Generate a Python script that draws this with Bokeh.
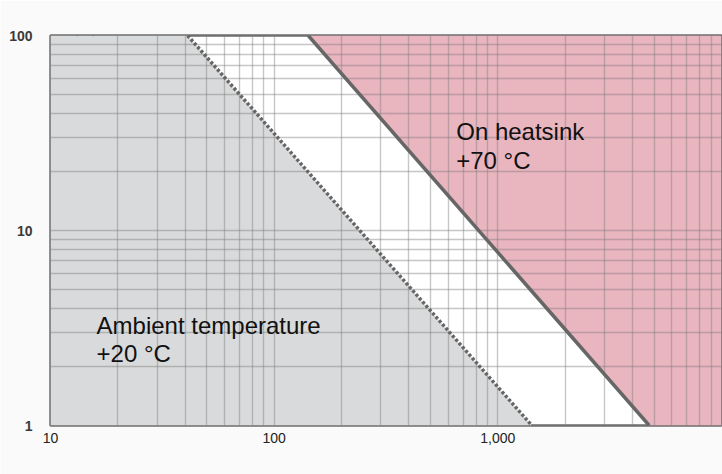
from bokeh.plotting import figure
from bokeh.models import Range1d, FixedTicker, Label
from bokeh.embed import file_html
from bokeh.resources import INLINE

# ---- data ----
x_ticks = [10, 100, 1000]
x_tick_labels = ["10", "100", "1,000"]
y_ticks = [1, 10, 100]
y_tick_labels = ["1", "10", "100"]

# boundary of the "ambient temperature +20 °C" region (dotted line)
ambient_P = [41, 1420]
ambient_ED = [100, 1]
# boundary of the "on heatsink +70 °C" region (solid line)
heatsink_P = [142, 4750]
heatsink_ED = [100, 1]

x_min, x_max = 10, 10000
y_min, y_max = 1, 100

FONT = "Liberation Sans"

p = figure(width=722, height=474, x_axis_type="log", y_axis_type="log",
           x_range=Range1d(x_min, x_max), y_range=Range1d(y_min, y_max),
           output_backend="svg", toolbar_location=None,
           min_border_left=50, min_border_right=1, min_border_top=35,
           min_border_bottom=49)
p.background_fill_color = "#ffffff"
p.border_fill_color = "#fafafa"
p.outline_line_color = "#6e6e6e"
p.outline_line_width = 2.5

# filled regions (under the grid)
p.patch([x_min, x_min, ambient_P[0], ambient_P[1]],
        [y_min, y_max, ambient_ED[0], ambient_ED[1]],
        fill_color="#d9dadb", line_color=None, level="image")
p.patch([heatsink_P[0], x_max, x_max, heatsink_P[1]],
        [heatsink_ED[0], y_max, y_min, heatsink_ED[1]],
        fill_color="#e9b5bf", line_color=None, level="image")

# boundary lines
p.line(ambient_P, ambient_ED, line_color="#666666", line_width=3.5,
       line_dash="3 2", line_cap="butt")
p.line(heatsink_P, heatsink_ED, line_color="#666666", line_width=3.5)

# grid at 1..9 x each decade
xg = [m * 10 ** k for k in range(1, 4) for m in range(1, 10)] + [x_max]
yg = [m * 10 ** k for k in range(0, 2) for m in range(1, 10)] + [y_max]
p.xgrid.ticker = FixedTicker(ticks=xg)
p.ygrid.ticker = FixedTicker(ticks=yg)
for g in (p.xgrid, p.ygrid):
    g.grid_line_color = "#7a7a7a"
    g.grid_line_alpha = 0.42
    g.grid_line_width = 1.4

# axes
p.xaxis.ticker = FixedTicker(ticks=x_ticks)
p.xaxis.major_label_overrides = {t: s for t, s in zip(x_ticks, x_tick_labels)}
p.yaxis.ticker = FixedTicker(ticks=y_ticks)
p.yaxis.major_label_overrides = {t: s for t, s in zip(y_ticks, y_tick_labels)}
for ax in (p.xaxis, p.yaxis):
    ax.axis_line_color = None
    ax.major_tick_line_color = None
    ax.minor_tick_line_color = None
    ax.major_tick_out = 0
    ax.major_label_text_font = FONT
    ax.major_label_text_font_size = "14px"
p.xaxis.major_label_text_color = "#222222"
p.xaxis.major_label_text_align = "left"
p.xaxis.major_label_standoff = 7
p.yaxis.major_label_text_color = "#3a3a3a"
p.yaxis.major_label_text_font_style = "bold"
p.yaxis.major_label_standoff = 18

# axis titles and extra label
p.add_layout(Label(x=x_min, y=y_max, y_offset=8, text="ED(%)",
                   text_font=FONT, text_font_size="16px",
                   text_color="#555555", text_baseline="alphabetic"))
p.add_layout(Label(x=x_max, y=y_min, x_offset=1, y_offset=-40, text="P(W)",
                   text_font=FONT, text_font_size="17px", text_font_style="bold",
                   text_color="#4a4a4a", text_align="right",
                   text_baseline="alphabetic"))
p.add_layout(Label(x=x_min, y=y_min, x_offset=-3, y_offset=-38, text="10.000",
                   text_font=FONT, text_font_size="14px",
                   text_color="#222222", text_baseline="alphabetic"))

# region annotations
region_labels = [
    (16.07, 3.257, ["Ambient temperature", "+20 °C"], 28),
    (651.6, 32.2, ["On heatsink", "+70 °C"], 29),
]
for x, y, lines, dy in region_labels:
    for i, t in enumerate(lines):
        p.add_layout(Label(x=x, y=y, y_offset=-dy * i, text=t,
                           text_font=FONT, text_font_size="24px",
                           text_color="#111111", text_baseline="alphabetic"))

open("out.html", "w").write(file_html(p, INLINE))
